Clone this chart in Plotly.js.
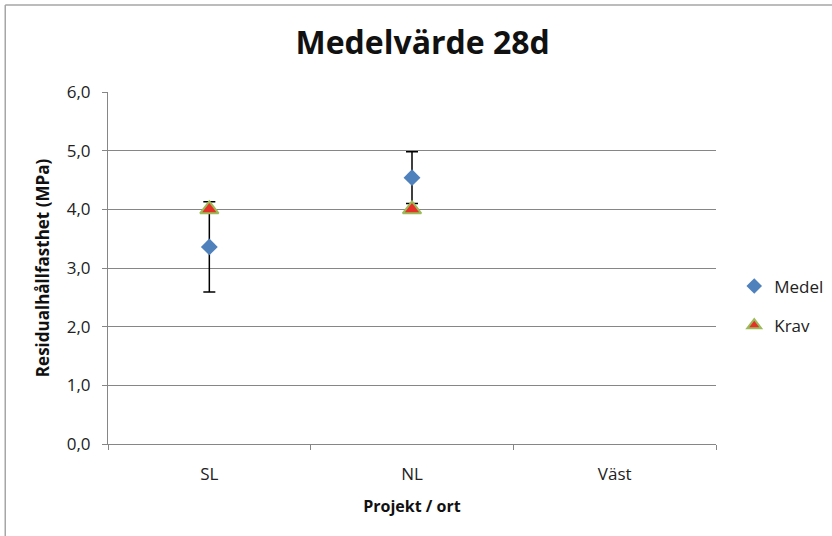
<!DOCTYPE html>
<html>
<head>
<meta charset="utf-8">
<script src="https://cdn.plot.ly/plotly-3.0.1.min.js"></script>
<style>html,body{margin:0;padding:0;background:#fff;}#chart{width:832px;height:536px;}</style>
</head>
<body>
<div id="chart"></div>
<script>
const categories = ["SL", "NL", "Väst"];
const medelValues = [3.36, 4.54, null];
const medelErrors = [0.77, 0.44, null];
const kravValues = [4.0, 4.0, null];
const yTickVals = [0, 1, 2, 3, 4, 5, 6];
const yTickText = ["0,0", "1,0", "2,0", "3,0", "4,0", "5,0", "6,0"];

const font = "'Open Sans', sans-serif";

const traces = [
  {
    type: "scatter", mode: "markers", name: "Medel", legendgroup: "a",
    x: categories, y: medelValues,
    marker: {symbol: "diamond", size: 13, color: "#4F81BD"},
    error_y: {type: "data", array: medelErrors, visible: true, color: "#000000", thickness: 1.5, width: 6}
  },
  {
    type: "scatter", mode: "markers", name: "Krav", legendgroup: "b",
    x: categories, y: kravValues,
    marker: {symbol: "triangle-up", size: 16, color: "#E8302A", line: {color: "#9BBB59", width: 2}}
  }
];

const layout = {
  width: 832, height: 536,
  margin: {l: 108, r: 116, t: 92, b: 92, autoexpand: false},
  paper_bgcolor: "#ffffff", plot_bgcolor: "#ffffff",
  font: {family: font, color: "#222222", size: 17},
  title: {text: "<b>Medelvärde 28d</b>", font: {family: font, size: 32, color: "#111111"}, x: 0.508, xanchor: "center", y: 0.92, yanchor: "middle"},
  xaxis: {
    type: "category", range: [-0.5, 2.5],
    tickson: "boundaries", ticks: "outside", ticklen: 5, tickcolor: "#868686",
    showline: true, linecolor: "#868686", linewidth: 1,
    showgrid: false, zeroline: false,
    ticklabelstandoff: 15,
    tickfont: {size: 17, color: "#222222"},
    title: {text: "<b>Projekt / ort</b>", font: {size: 16, color: "#111111"}, standoff: 16}
  },
  yaxis: {
    range: [0, 6], tickvals: yTickVals, ticktext: yTickText,
    ticks: "outside", ticklen: 5, tickcolor: "#868686",
    showline: true, linecolor: "#868686", linewidth: 1,
    showgrid: true, gridcolor: "#868686", gridwidth: 1, zeroline: false,
    ticklabelstandoff: 8,
    tickfont: {size: 17, color: "#222222"},
    title: {text: "<b>Residualhållfasthet (MPa)</b>", font: {size: 17, color: "#111111"}, standoff: 12}
  },
  legend: {x: 1.03, xanchor: "left", y: 0.392, yanchor: "middle", font: {size: 17, color: "#222222"}, tracegroupgap: 14, traceorder: "grouped", itemsizing: "constant", bgcolor: "rgba(0,0,0,0)"},
  showlegend: true,
  shapes: [
    {type: "line", xref: "paper", yref: "paper", x0: -0.169, x1: -0.169, y0: -0.27, y1: 1.247, line: {color: "#A6A6A6", width: 1.5}},
    {type: "line", xref: "paper", yref: "paper", x0: -0.169, x1: 1.25, y0: 1.247, y1: 1.247, line: {color: "#A6A6A6", width: 1.5}}
  ]
};

Plotly.newPlot("chart", traces, layout, {displayModeBar: false, staticPlot: true});
</script>
</body>
</html>
